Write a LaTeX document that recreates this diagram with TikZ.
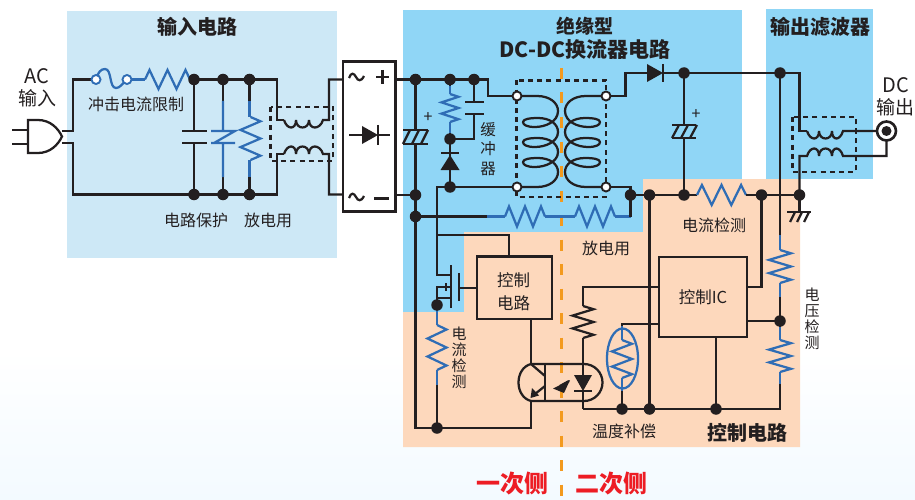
\documentclass[tikz,border=0pt]{standalone}
\usepackage{fontspec}
\setmainfont{Noto Sans CJK SC}
\usetikzlibrary{arrows.meta}
\definecolor{lblue}{HTML}{CDE8F6}
\definecolor{mblue}{HTML}{90D6F6}
\definecolor{peach}{HTML}{FDD8BC}
\definecolor{ink}{HTML}{231F20}
\definecolor{wblue}{HTML}{2F6DB5}
\definecolor{dorange}{HTML}{F39A1E}
\definecolor{sred}{HTML}{ED1C24}
\definecolor{pale}{HTML}{F3FAFF}
\newcommand{\fs}[1]{\fontsize{#1}{#1}\selectfont}
\newcommand{\zigH}[5]{\draw[#5] (#1,#3) -- ({#1+0.1*(#2-#1)},{#3-#4}) -- ({#1+0.3*(#2-#1)},{#3+#4}) -- ({#1+0.5*(#2-#1)},{#3-#4}) -- ({#1+0.7*(#2-#1)},{#3+#4}) -- ({#1+0.9*(#2-#1)},{#3-#4}) -- (#2,#3);}
\newcommand{\zigV}[5]{\draw[#5] (#3,#1) -- ({#3+#4},{#1+0.1*(#2-#1)}) -- ({#3-#4},{#1+0.3*(#2-#1)}) -- ({#3+#4},{#1+0.5*(#2-#1)}) -- ({#3-#4},{#1+0.7*(#2-#1)}) -- ({#3+#4},{#1+0.9*(#2-#1)}) -- (#3,#2);}
\tikzset{
  wire/.style={draw=ink,line width=2.25pt,line join=miter},
  bw/.style={draw=wblue,line width=2.25pt,line join=miter},
  dot/.style={circle,fill=ink,draw=none,inner sep=0pt,minimum size=11.5pt},
  term/.style={circle,fill=white,draw=ink,line width=1.9pt,inner sep=0pt,minimum size=9pt},
  boxed/.style={draw=ink,line width=2.25pt},
  dashbox/.style={draw=ink,line width=2.25pt,dash pattern=on 5pt off 4.2pt},
  lab/.style={text=ink,inner sep=0pt,font=\fs{16}},
  vlab/.style={text=ink,inner sep=0pt,font=\fs{15.5},align=center},
  title/.style={text=ink,inner sep=0pt,font=\fs{20}\bfseries,align=center},
  side/.style={text=sred,inner sep=0pt,font=\fs{24}\bfseries},
  tip/.style={fill=ink,draw=none}
}
\begin{document}
\begin{tikzpicture}[x=1pt,y=-1pt]
\useasboundingbox (0,0) rectangle (915,500);
% page tint
\fill[white] (0,0) rectangle (915,500);
\shade[top color=white,bottom color=pale] (0,350) rectangle (915,500);
% regions
\fill[lblue] (67,11) rectangle (337,258);
\fill[mblue] (403,10) rectangle (742,312);
\fill[mblue] (766,9) rectangle (873,179);
\fill[peach] (403,312) -- (464,312) -- (464,232) -- (643,232) -- (643,179) -- (800,179) -- (800,447) -- (403,447) -- cycle;
% isolation line
\coordinate (isoT) at (561.5,68);
\coordinate (isoB) at (561.5,500);
\draw[dorange,line width=3pt,dash pattern=on 11pt off 13.5pt] (isoT) -- (isoB);
% junctions
\foreach \n/\x/\y in {a1/194/79.5,a2/223/79.5,a3/249.5/79.5,b1/194/194.5,b2/223/194.5,b3/249.5/194.5,
  c1/415.5/79.5,c2/450/79.5,c3/474/79.5,c4/415.5/195,c5/415.5/216.5,c6/450/139,c7/450/187,
  d1/630.5/195,d2/649.5/195,d3/684/195,d4/761.5/195,d5/799.5/195,d6/684/73,d7/780/73,
  e1/437/305,e2/437/428,e3/780/321,e4/622/409,e5/649.5/409,e6/716/409}
  {\coordinate (\n) at (\x,\y);}
\foreach \n/\x/\y in {t1/517/96,t2/606/96,t3/517/187,t4/606/187}{\coordinate (\n) at (\x,\y);}
\coordinate (dcout) at (886.5,131);
% ---------- input
\draw[wire] (62,131) -- (73,131) -- (73,79.5) -- (92,79.5);
\draw[wire] (62,143) -- (73,143) -- (73,194.5) -- (b1);
\draw[wire] (a1) -- (a3) -- (277,79.5) -- (277,120) -- (284,120);
\draw[wire] (b1) -- (b3) -- (277,194.5) -- (277,154) -- (284,154);
\draw[wire] (a1) -- (194,131) (182,131) -- (207,131) (182,143) -- (207,143) (194,143) -- (b1);
\draw[wire] (a2) -- (223,101) (223,177) -- (b2);
\draw[wire] (a3) -- (249.5,101) (249.5,177) -- (b3);
\draw[bw] (223,101) -- (223,131) (211,131) -- (235,131) -- (214,143) (211,143) -- (235,143) (223,143) -- (223,177);
\draw[bw] (249.5,101) -- (249.5,117) (249.5,160) -- (249.5,177);
\zigV{117}{160}{250.5}{10}{bw}
% fuse and limiter
\draw[bw] (96,79.5) .. controls (98,72) and (101,69) .. (105,69) .. controls (112,69) and (109,88) .. (116,88) .. controls (120,88) and (122,84) .. (127,79.5);
\node[term,draw=wblue] (fuseL) at (96,79.5) {};
\node[term,draw=wblue] (fuseR) at (127,79.5) {};
\zigH{145}{190}{79.5}{9.5}{bw}
\draw[bw] (fuseR) -- (145,79.5);
% plug
\draw[wire] (12,130) -- (28,130) (12,144) -- (28,144);
\draw[wire,fill=white] (28,120) -- (38,120) .. controls (50,120) and (58,128) .. (62,136.5) .. controls (58,145) and (50,153) .. (38,153) -- (28,153) -- cycle;
% common-mode choke
\draw[wire] (284,120) .. controls (287,130) and (296,130) .. (296,120) (296,120) .. controls (296,130) and (309,130) .. (309,120) (309,120) .. controls (309,130) and (320,130) .. (323,120) -- (329,120) -- (329,79.5) -- (343,79.5);
\draw[wire] (284,154) .. controls (287,144) and (296,144) .. (296,154) (296,154) .. controls (296,144) and (309,144) .. (309,154) (309,154) .. controls (309,144) and (320,144) .. (323,154) -- (329,154) -- (329,194.5) -- (343,194.5);
\draw[dashbox] (270.5,107) rectangle (333,160.7);
% rectifier
\node[draw=ink,fill=white,line width=2.5pt,minimum width=52.5pt,minimum height=149.5pt,inner sep=0pt] (rect) at (369,136.5) {};
\draw[wire] (349,135) -- (362,135) (378,135) -- (390,135) (378,125) -- (378,145);
\fill[tip] (362,126) -- (378,135) -- (362,144) -- cycle;
\draw[wire] (349,78) .. controls (351,72) and (354,73) .. (356,77) .. controls (358,81) and (361,82) .. (364,76);
\draw[wire] (349,198) .. controls (351,192) and (354,193) .. (356,197) .. controls (358,201) and (361,202) .. (364,196);
\draw[ink,line width=2.8pt] (376,77) -- (389,77) (382.5,70) -- (382.5,84) (374,198.5) -- (389,198.5);
% ---------- converter primary
\draw[wire] (395,79.5) -- (c1) -- (c2) -- (c3) -- (488,79.5) -- (488,96) -- (t1);
\draw[wire] (395,195) -- (c4);
\draw[wire] (c1) -- (415.5,130) (415.5,144) -- (c4) -- (c5) -- (415.5,428) -- (e2);
\draw[wire] (403,130) -- (428,130) (403,144) -- (428,144);
\foreach \s in {0,9,18}{\draw[wire] ({410+\s},130) -- ({403+\s},144);}
\node[text=ink,inner sep=0pt,font=\fs{16}] (plus1) at (428,118) {+};
\draw[wire] (c5) -- (487,216.5);
\draw[bw] (487,216.5) -- (505,216.5) (545,216.5) -- (575,216.5) (615,216.5) -- (630.5,216.5);
\zigH{505}{545}{216.5}{10}{bw}
\zigH{575}{615}{216.5}{10}{bw}
\draw[wire] (630.5,216.5) -- (d1);
% snubber
\draw[wire] (c2) -- (450,86);
\draw[bw] (450,86) -- (450,94) (450,122) -- (450,133);
\zigV{94}{122}{450}{8.5}{bw}
\draw[wire] (450,133) -- (c6) -- (474,139) -- (474,114) (465,114) -- (484,114) (465,102) -- (484,102) (474,102) -- (c3);
\draw[wire] (c6) -- (c7) (441,153) -- (459,153);
\fill[tip] (450,155) -- (459.5,170) -- (440.5,170) -- cycle;
\draw[wire] (c7) -- (437,187) -- (437,275) -- (451,275);
\draw[wire] (c7) -- (t3);
\draw[wire] (437,235) -- (509,235) -- (509,256.5);
% transformer
\draw[dashbox] (516.5,80.5) rectangle (606,197);
\newcommand{\coilpath}[1]{
\begin{scope}[xscale=#1]
\draw[wire,line join=round] (0,96) -- (20,96) .. controls (33,96) and (41,103) .. (41,111) .. controls (41,122) and (28,127) .. (18,127) .. controls (10,127) and (6,125) .. (6,122) .. controls (6,119) and (13,118) .. (21,118) .. controls (33,118) and (41,124) .. (41,132) .. controls (41,142) and (28,147) .. (18,147) .. controls (10,147) and (6,145) .. (6,142) .. controls (6,139) and (13,138) .. (21,138) .. controls (33,138) and (41,144) .. (41,152) .. controls (41,162) and (28,167) .. (18,167) .. controls (10,167) and (6,165) .. (6,162) .. controls (6,159) and (13,158) .. (21,158) .. controls (33,158) and (41,164) .. (41,172) .. controls (41,180) and (33,187) .. (20,187) -- (0,187);
\end{scope}}
\begin{scope}[shift={(517,0)}]\coilpath{1}\end{scope}
\begin{scope}[shift={(606,0)}]\coilpath{-1}\end{scope}
% secondary
\draw[wire] (t2) -- (625.5,96) -- (625.5,73) -- (647,73);
\fill[tip] (647,64) -- (663,73) -- (647,82) -- cycle;
\draw[wire] (663,64) -- (663,82) (663,73) -- (d6) -- (d7) -- (799.5,73) -- (799.5,131) -- (807,131);
\draw[wire] (d6) -- (684,125) (672,125) -- (696,125) (672,138) -- (696,138) (684,138) -- (d3);
\foreach \s in {0,9,18}{\draw[wire] ({679+\s},125) -- ({672+\s},138);}
\node[text=ink,inner sep=0pt,font=\fs{16}] (plus2) at (696,115) {+};
% output choke
\draw[wire] (807,131) .. controls (810,141) and (819,141) .. (819,131) (819,131) .. controls (819,141) and (832,141) .. (832,131) (832,131) .. controls (832,141) and (840,141) .. (843,131) -- (dcout);
\draw[wire] (dcout) -- (886.5,156) -- (843,156) .. controls (840,146) and (832,146) .. (832,156) (832,156) .. controls (832,146) and (819,146) .. (819,156) (819,156) .. controls (819,146) and (810,146) .. (807,156) -- (799.5,156) -- (d5);
\draw[dashbox] (792.5,117) rectangle (856,171.7);
\node[circle,draw=ink,fill=white,line width=2.6pt,minimum size=19pt,inner sep=0pt] (outring) at (dcout) {};
\node[circle,fill=ink,minimum size=10pt,inner sep=0pt] (outdot) at (dcout) {};
% return rail
\draw[wire] (t4) -- (630.5,187) -- (d1) -- (d2) -- (d3) -- (697,195);
\zigH{697}{746}{195}{10}{bw}
\draw[wire] (746,195) -- (d4) -- (d5) -- (799.5,212);
\draw[wire] (787,212) -- (811,212);
\foreach \s in {0,7,14}{\draw[wire] ({795+\s},212) -- ({790+\s},222);}
% feedback
\draw[wire] (d2) -- (e5);
\draw[wire] (d7) -- (780,235);
\draw[bw] (780,235) -- (780,250) (780,283) -- (780,297);
\zigV{250}{283}{780}{11}{bw}
\draw[wire] (780,297) -- (e3) -- (780,327);
\draw[bw] (780,327) -- (780,340) (780,372) -- (780,384);
\zigV{340}{372}{780}{11}{bw}
\draw[wire] (780,384) -- (780,409) -- (583,409);
% control IC
\node[boxed,fill=peach,minimum width=88.5pt,minimum height=79.5pt,inner sep=0pt,text=ink,font=\fs{16.5}] (ic) at (703,297) {\raisebox{-1.5pt}{控制IC}};
\draw[wire] (d4) -- (761.5,287) -- (748,287);
\draw[wire] (748,321) -- (e3);
\draw[wire] (716,337) -- (e6);
\draw[wire] (658,287) -- (583,287) -- (583,306);
\zigV{306}{338}{583}{10.5}{wire}
\draw[wire] (583,338) -- (583,375) (583,391) -- (583,409);
\draw[wire] (658,324) -- (622,324) -- (622,328);
\draw[bw] (622,326) -- (622,340) (622,378) -- (622,391);
\zigV{340}{378}{622}{10}{bw}
\draw[wire] (622,391) -- (e4);
\draw[bw] (622.5,358.5) ellipse [x radius=15.5,y radius=30];
% control circuit
\node[boxed,fill=peach,minimum width=75pt,minimum height=62.5pt,inner sep=0pt] (ctl) at (514.5,287.8) {};
\node[text=ink,inner sep=0pt,font=\fs{16.5},align=center] (ctl-text) at (513.5,291.5) {控制\\[6pt]电路};
% FET
\draw[wire] (ctl.west |- 0,288) -- (459,288);
\draw[wire] (459,273) -- (459,301) (451,265) -- (451,308);
\draw[wire] (451,287) -- (437,287) -- (e1) (437,298) -- (451,298) (446,283) -- (446,291);
% sense resistor
\draw[bw] (437,305) -- (437,325) (437,370) -- (437,385);
\zigV{325}{370}{437}{9.5}{bw}
\draw[wire] (437,385) -- (e2) -- (531,428) -- (531,401);
% optocoupler
\draw[wire] (531,319) -- (531,364);
\draw[wire] (531,364) .. controls (523,366) and (518.5,374) .. (518.5,382.5) .. controls (518.5,391) and (523,399) .. (531,401);
\draw[wire] (531,364) -- (584,364) .. controls (594.2,364) and (602.5,372.3) .. (602.5,382.5) .. controls (602.5,392.7) and (594.2,401) .. (584,401) -- (531,401);
\draw[wire] (545,364) -- (545,401);
\draw[wire] (531,364) -- (545,376);
\draw[wire] (545,386) -- (535,394);
\fill[tip] (530.5,398) -- (532,388) -- (539,395.5) -- cycle;
\fill[tip] (574,375) -- (592,375) -- (583,391) -- cycle;
\draw[wire] (574,391) -- (592,391);
\draw[wire] (569,381) -- (560,386);
\fill[tip] (553,388.5) -- (570,380) -- (564,393) -- cycle;
% dots
\foreach \n in {a1,a2,a3,b1,b2,b3,c1,c2,c3,c4,c5,c6,c7,d1,d2,d3,d4,d5,d6,d7,e1,e2,e3,e4,e5,e6}{\node[dot] at (\n) {};}
\foreach \n in {t1,t2,t3,t4}{\node[term] at (\n) {};}
% labels
\node[title] (t-in) at (197,27) {输入电路};
\node[title,font=\fs{19}\bfseries] (t-conv1) at (585,26) {绝缘型};
\node[title,font=\fs{21}\bfseries] (t-conv2) at (585,50) {DC-DC换流器电路};
\node[title] (t-out) at (820,27) {输出滤波器};
\node[title] (t-ctl) at (747,433) {控制电路};
\node[text=ink,inner sep=0pt,font=\fs{20}] (l-ac) at (37,76) {AC};
\node[text=ink,inner sep=0pt,font=\fs{19}] (l-ac2) at (37,98) {输入};
\node[text=ink,inner sep=0pt,font=\fs{20}] (l-dc) at (896,85) {DC};
\node[text=ink,inner sep=0pt,font=\fs{19}] (l-dc2) at (895,107) {输出};
\node[lab] (l1) at (136,104.5) {冲击电流限制};
\node[lab] (l2) at (196,220) {电路保护};
\node[lab] (l3) at (268,220) {放电用};
\node[vlab] (l4) at (488,149) {缓\\[4pt]冲\\[4pt]器};
\node[lab] (l5) at (606,248) {放电用};
\node[lab] (l6) at (714,225) {电流检测};
\node[vlab,font=\fs{15}] (l7) at (812,319) {电\\[1pt]压\\[1pt]检\\[1pt]测};
\node[vlab,font=\fs{15}] (l8) at (459,358) {电\\[1pt]流\\[1pt]检\\[1pt]测};
\node[lab] (l9) at (624,431) {温度补偿};
\node[side] (s1) at (512,484) {一次侧};
\node[side] (s2) at (611,484) {二次侧};
\end{tikzpicture}
\end{document}
